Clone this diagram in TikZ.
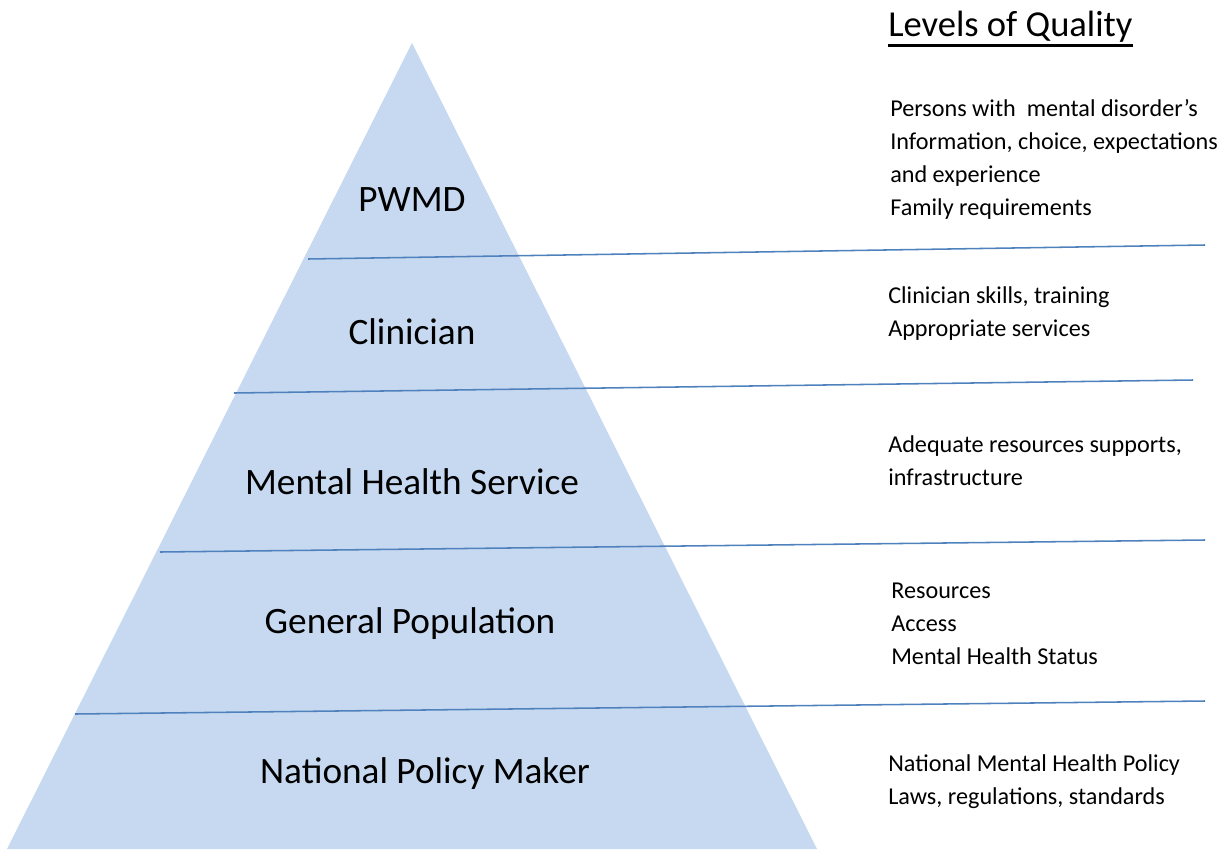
\documentclass[tikz,border=0pt]{standalone}
\usepackage{fontspec}
\setmainfont{Carlito}
\usetikzlibrary{positioning}

\definecolor{pyrfill}{HTML}{C6D9F0}
\definecolor{pyrline}{HTML}{4F81BD}

\tikzset{
  level/.style={inner sep=0pt, font=\fontsize{26.5}{32}\selectfont},
  quality/.style={inner sep=0pt, anchor=west, align=left, font=\fontsize{17.2}{23.5}\selectfont},
  divider/.style={draw=pyrline, line width=1.1pt}
}

\begin{document}
\begin{tikzpicture}[x=0.025cm, y=-0.025cm]
    \useasboundingbox (0,0) rectangle (1228,849);
    % pyramid
    \fill[pyrfill] (412,43) -- (817,849) -- (7,849) -- cycle;
    % dividing lines
    \coordinate (l1a) at (308,259);  \coordinate (l1b) at (1205,245);
    \coordinate (l2a) at (234,393);  \coordinate (l2b) at (1193,380);
    \coordinate (l3a) at (160,552);  \coordinate (l3b) at (1205,540);
    \coordinate (l4a) at (75,714);   \coordinate (l4b) at (1205,701);
    \draw[divider] (l1a) -- (l1b);
    \draw[divider] (l2a) -- (l2b);
    \draw[divider] (l3a) -- (l3b);
    \draw[divider] (l4a) -- (l4b);
    % levels
    \node[level] (pwmd) at (412,200) {PWMD};
    \node[level] (clin) at (412,332) {Clinician};
    \node[level] (mhs) at (412,482) {Mental Health Service};
    \node[level] (genpop) at (410,624) {General Population};
    \node[level] (npm) at (425,774) {National Policy Maker};
    % title
    \node[inner sep=0pt, anchor=west, font=\fontsize{26}{30}\selectfont] (title) at (888,27) {Levels of Quality};
    \draw[line width=2pt] ([yshift=-6pt]title.base west) -- ([yshift=-6pt]title.base east);
    % quality texts
    \node[quality] (q1) at (890,159) {Persons with \ mental disorder’s\\Information, choice, expectations\\and experience\\Family requirements};
    \node[quality] (q2) at (888,314) {Clinician skills, training\\Appropriate services};
    \node[quality] (q3) at (888,461) {Adequate resources supports,\\infrastructure};
    \node[quality] (q4) at (891,624) {Resources\\Access\\Mental Health Status};
    \node[quality] (q5) at (888,782) {National Mental Health Policy\\Laws, regulations, standards};
\end{tikzpicture}
\end{document}
